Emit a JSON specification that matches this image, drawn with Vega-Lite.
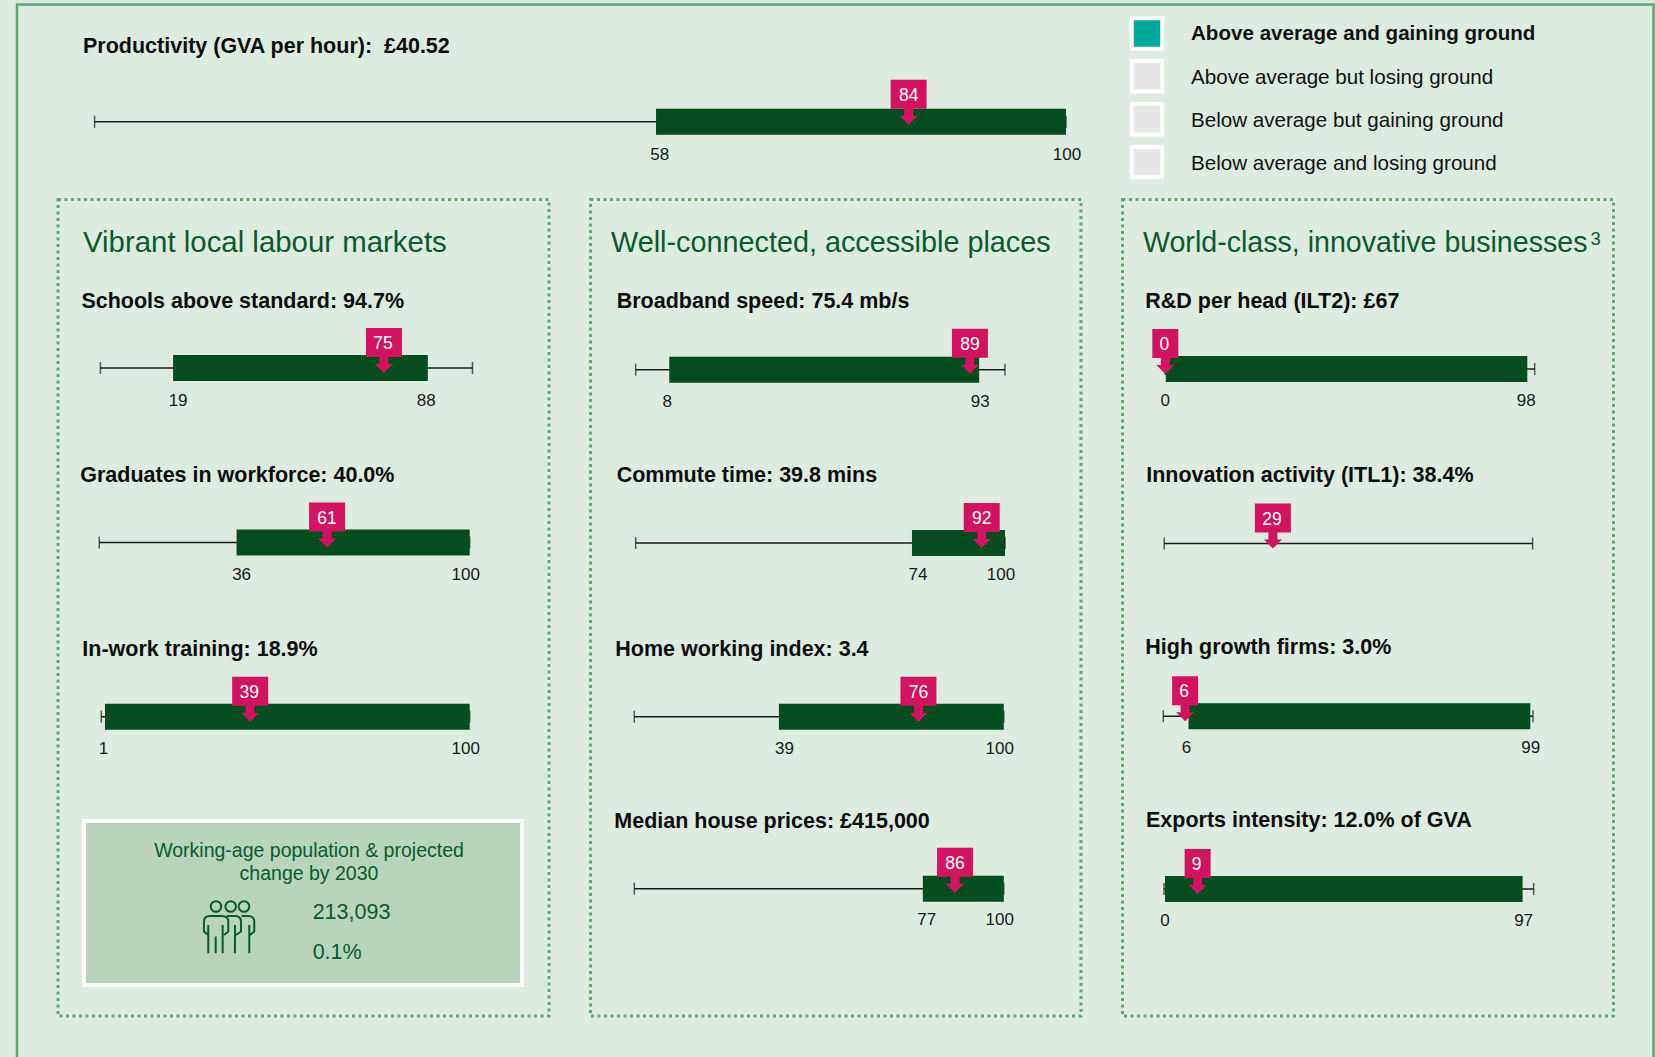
{"$schema":"https://vega.github.io/schema/vega-lite/v6.json","width":1655,"height":1057,"autosize":{"type":"none"},"padding":0,"background":"#deebe1",
"config":{"view":{"stroke":null},"text":{"font":"Liberation Sans"},"axis":{"grid":false}},
"datasets":{
"indicators":[
{"id":"prod","title":"Productivity (GVA per hour):\u00a0\u00a0£40.52","low":58,"high":100,"rank":84,"marker":83.8},
{"id":"schools","title":"Schools above standard: 94.7%","low":19,"high":88,"rank":75,"marker":76.2},
{"id":"grads","title":"Graduates in workforce: 40.0%","low":36,"high":100,"rank":61,"marker":61.5},
{"id":"training","title":"In-work training: 18.9%","low":1,"high":100,"rank":39,"marker":40.4},
{"id":"broadband","title":"Broadband speed: 75.4 mb/s","low":8,"high":93,"rank":89,"marker":90.5},
{"id":"commute","title":"Commute time: 39.8 mins","low":74,"high":100,"rank":92,"marker":93.7},
{"id":"home","title":"Home working index: 3.4","low":39,"high":100,"rank":76,"marker":76.9},
{"id":"house","title":"Median house prices: £415,000","low":77,"high":100,"rank":86,"marker":86.8},
{"id":"rd","title":"R&D per head (ILT2): £67","low":0,"high":98,"rank":0,"marker":0},
{"id":"innovation","title":"Innovation activity (ITL1): 38.4%","rank":29,"marker":29.5},
{"id":"growth","title":"High growth firms: 3.0%","low":6,"high":99,"rank":6,"marker":5.9},
{"id":"exports","title":"Exports intensity: 12.0% of GVA","low":0,"high":97,"rank":9,"marker":9.1}
],
"panels":[{"panel":"Vibrant local labour markets"},{"panel":"Well-connected, accessible places"},{"panel":"World-class, innovative businesses","note":"3"}],
"legend":[{"status":"Above average and gaining ground"},{"status":"Above average but losing ground"},{"status":"Below average but gaining ground"},{"status":"Below average and losing ground"}],
"population":[{"heading":"Working-age population & projected","subheading":"change by 2030","count":"213,093","change":"0.1%"}]
},
"resolve":{"scale":{"x":"independent","y":"independent"}},
"layer":[
{"data":{"name":"population"},"mark":{"type":"rect","fill":null,"stroke":"#5fa777","strokeWidth":2.5},"encoding":{"x":{"datum":0,"type":"quantitative","scale":{"domain":[0,1],"range":[17,1653.5]},"axis":null},"x2":{"datum":1},"y":{"datum":0,"type":"quantitative","scale":{"domain":[0,1],"range":[4.5,1100]},"axis":null},"y2":{"datum":1}}},
{"data":{"name":"panels"},"transform":[{"filter":"datum.panel==='Vibrant local labour markets'"}],"encoding":{"x":{"datum":0,"type":"quantitative","scale":{"domain":[0,1],"range":[58,549]},"axis":null},"y":{"datum":0,"type":"quantitative","scale":{"domain":[0,1],"range":[199.5,1016]},"axis":null}},"layer":[
{"mark":{"type":"rect","fill":null,"stroke":"#5fa777","strokeWidth":3,"strokeDash":[3,3.5]},"encoding":{"x2":{"datum":1},"y2":{"datum":1}}},
{"mark":{"type":"text","align":"left","baseline":"alphabetic","fontSize":29.4,"color":"#0b5a2e","dx":25,"dy":52},"encoding":{"text":{"field":"panel"}}}]},
{"data":{"name":"panels"},"transform":[{"filter":"datum.panel==='Well-connected, accessible places'"}],"encoding":{"x":{"datum":0,"type":"quantitative","scale":{"domain":[0,1],"range":[590.5,1081]},"axis":null},"y":{"datum":0,"type":"quantitative","scale":{"domain":[0,1],"range":[199.5,1016]},"axis":null}},"layer":[
{"mark":{"type":"rect","fill":null,"stroke":"#5fa777","strokeWidth":3,"strokeDash":[3,3.5]},"encoding":{"x2":{"datum":1},"y2":{"datum":1}}},
{"mark":{"type":"text","align":"left","baseline":"alphabetic","fontSize":28.8,"color":"#0b5a2e","dx":20.5,"dy":52},"encoding":{"text":{"field":"panel"}}}]},
{"data":{"name":"panels"},"transform":[{"filter":"datum.panel==='World-class, innovative businesses'"}],"encoding":{"x":{"datum":0,"type":"quantitative","scale":{"domain":[0,1],"range":[1122.5,1613.5]},"axis":null},"y":{"datum":0,"type":"quantitative","scale":{"domain":[0,1],"range":[199.5,1016]},"axis":null}},"layer":[
{"mark":{"type":"rect","fill":null,"stroke":"#5fa777","strokeWidth":3,"strokeDash":[3,3.5]},"encoding":{"x2":{"datum":1},"y2":{"datum":1}}},
{"mark":{"type":"text","align":"left","baseline":"alphabetic","fontSize":28.6,"color":"#0b5a2e","dx":20.5,"dy":52},"encoding":{"text":{"field":"panel"}}},
{"mark":{"type":"text","align":"left","baseline":"alphabetic","fontSize":18.5,"color":"#0b5a2e","dx":468,"dy":45.5},"encoding":{"text":{"field":"note"}}}]},
{"data":{"name":"legend"},"encoding":{"x":{"datum":0,"type":"quantitative","scale":{"domain":[0,1],"range":[1147,1600]},"axis":null},"y":{"field":"status","type":"nominal","sort":null,"scale":{"type":"point","padding":0,"domain":["Above average and gaining ground","Above average but losing ground","Below average but gaining ground","Below average and losing ground"],"range":[33.5,162]},"axis":null}},"layer":[
{"mark":{"type":"point","shape":"square","filled":true,"size":930,"stroke":"#ffffff","strokeWidth":4,"opacity":1,"strokeOpacity":1},"encoding":{"fill":{"field":"status","type":"nominal","legend":null,"scale":{"domain":["Above average and gaining ground","Above average but losing ground","Below average but gaining ground","Below average and losing ground"],"range":["#00a79d","#e8e8e8","#e8e8e8","#e8e8e8"]}}}},
{"transform":[{"filter":"datum.status!=='Above average and gaining ground'"}],"mark":{"type":"text","align":"left","baseline":"middle","fontSize":20.6,"color":"#111111","dx":44,"dy":2},"encoding":{"text":{"field":"status"}}},
{"transform":[{"filter":"datum.status==='Above average and gaining ground'"}],"mark":{"type":"text","align":"left","baseline":"middle","fontSize":20.6,"fontWeight":"bold","color":"#111111","dx":44},"encoding":{"text":{"field":"status"}}}]},
{"data":{"name":"population"},"encoding":{"x":{"datum":0.5,"type":"quantitative","scale":{"domain":[0,1],"range":[84,522]},"axis":null},"y":{"datum":0,"type":"quantitative","scale":{"domain":[0,1],"range":[821,985]},"axis":null}},"layer":[
{"mark":{"type":"rect","fill":"#b8d4bd","stroke":"#ffffff","strokeWidth":4},"encoding":{"x":{"datum":0},"x2":{"datum":1},"y2":{"datum":1}}},
{"mark":{"type":"text","align":"center","baseline":"alphabetic","fontSize":19.5,"color":"#0b5a2e","dx":6},"encoding":{"y":{"datum":0.2177},"text":{"field":"heading"}}},
{"mark":{"type":"text","align":"center","baseline":"alphabetic","fontSize":19.5,"color":"#0b5a2e","dx":6},"encoding":{"y":{"datum":0.36},"text":{"field":"subheading"}}},
{"mark":{"type":"text","align":"left","baseline":"alphabetic","fontSize":21.5,"color":"#0b5a2e"},"encoding":{"x":{"datum":0.522},"y":{"datum":0.595},"text":{"field":"count"}}},
{"mark":{"type":"text","align":"left","baseline":"alphabetic","fontSize":21.5,"color":"#0b5a2e"},"encoding":{"x":{"datum":0.522},"y":{"datum":0.843},"text":{"field":"change"}}},
{"mark":{"type":"point","filled":false,"size":4,"opacity":1,"stroke":"#0b5a2e","strokeWidth":2,"shape":"M-18.3,-20.7a5.3,5.3 0 1,0 10.6,0a5.3,5.3 0 1,0 -10.6,0M-3.6,-20.7a5.3,5.3 0 1,0 10.6,0a5.3,5.3 0 1,0 -10.6,0M9.7,-20.7a5.3,5.3 0 1,0 10.6,0a5.3,5.3 0 1,0 -10.6,0M-20.7,7.7L-25,4.3V-5.7Q-25,-11.3 -19,-11.3H-7.3Q-0.7,-11.3 -0.7,-5.7V4.3L-5,7.7M-20.7,-2.3V26M-13.3,9.3V26M-6.3,-2.3V26M-2.3,-11.3H6Q12,-11.3 12,-5.7V4.3L7,7.7M6,-2.3V26M12.7,-11.3H19.3Q25.3,-11.3 25.3,-5.7V4.3L21,7.7M20.3,-2.3V26"},"encoding":{"x":{"datum":0.331},"y":{"datum":0.648}}}]},

{"data":{"name":"indicators"},"transform":[{"filter":"datum.id==='prod'"}],"encoding":{"x":{"field":"low","type":"quantitative","scale":{"domain":[0,100],"range":[94.6,1066]},"axis":null},"y":{"field":"id","type":"nominal","scale":{"type":"point","domain":["prod"],"range":[121.7,121.7]},"axis":null}},"layer":[
{"mark":{"type":"rule","color":"#1a1a1a","strokeWidth":1.5},"encoding":{"x":{"datum":0},"x2":{"datum":100}}},
{"mark":{"type":"tick","color":"#1a1a1a","size":12,"thickness":1.5},"encoding":{"x":{"datum":0}}},
{"mark":{"type":"tick","color":"#1a1a1a","size":12,"thickness":1.5},"encoding":{"x":{"datum":100}}},
{"mark":{"type":"bar","color":"#054d20","size":26,"xOffset":-2},"encoding":{"x2":{"field":"high"}}},
{"mark":{"type":"point","filled":true,"size":4,"opacity":1,"color":"#d2135f","shape":"M-18,-42H18V-13H4.5V-6H9L0,3L-9,-6H-4.5V-13H-18Z"},"encoding":{"x":{"field":"marker","type":"quantitative"}}},
{"mark":{"type":"text","fontSize":17.5,"color":"#ffffff","dy":-26,"baseline":"middle"},"encoding":{"x":{"field":"marker","type":"quantitative"},"text":{"field":"rank","type":"quantitative"}}},
{"mark":{"type":"text","fontSize":17,"color":"#1a1a1a","baseline":"alphabetic","dy":38,"dx":1.7},"encoding":{"text":{"field":"low","type":"quantitative"}}},
{"mark":{"type":"text","fontSize":17,"color":"#1a1a1a","baseline":"alphabetic","dy":38,"dx":1},"encoding":{"x":{"field":"high","type":"quantitative"},"text":{"field":"high","type":"quantitative"}}},
{"mark":{"type":"text","fontSize":21.5,"fontWeight":"bold","color":"#0d0d0d","align":"left","baseline":"alphabetic","dx":-11.6,"dy":-68.4},"encoding":{"x":{"datum":0},"text":{"field":"title"}}}]},

{"data":{"name":"indicators"},"transform":[{"filter":"datum.id==='schools'"}],"encoding":{"x":{"field":"low","type":"quantitative","scale":{"domain":[0,100],"range":[100.4,472.5]},"axis":null},"y":{"field":"id","type":"nominal","scale":{"type":"point","domain":["schools"],"range":[368,368]},"axis":null}},"layer":[
{"mark":{"type":"rule","color":"#1a1a1a","strokeWidth":1.5},"encoding":{"x":{"datum":0},"x2":{"datum":100}}},
{"mark":{"type":"tick","color":"#1a1a1a","size":12,"thickness":1.5},"encoding":{"x":{"datum":0}}},
{"mark":{"type":"tick","color":"#1a1a1a","size":12,"thickness":1.5},"encoding":{"x":{"datum":100}}},
{"mark":{"type":"bar","color":"#054d20","size":26,"xOffset":2},"encoding":{"x2":{"field":"high"}}},
{"mark":{"type":"point","filled":true,"size":4,"opacity":1,"color":"#d2135f","shape":"M-18,-40H18V-11H4.5V-4H9L0,5L-9,-4H-4.5V-11H-18Z"},"encoding":{"x":{"field":"marker","type":"quantitative"}}},
{"mark":{"type":"text","fontSize":17.5,"color":"#ffffff","dy":-24,"baseline":"middle","dx":-1},"encoding":{"x":{"field":"marker","type":"quantitative"},"text":{"field":"rank","type":"quantitative"}}},
{"mark":{"type":"text","fontSize":17,"color":"#1a1a1a","baseline":"alphabetic","dy":38,"dx":7},"encoding":{"text":{"field":"low","type":"quantitative"}}},
{"mark":{"type":"text","fontSize":17,"color":"#1a1a1a","baseline":"alphabetic","dy":38,"dx":-1.6},"encoding":{"x":{"field":"high","type":"quantitative"},"text":{"field":"high","type":"quantitative"}}},
{"mark":{"type":"text","fontSize":21.5,"fontWeight":"bold","color":"#0d0d0d","align":"left","baseline":"alphabetic","dx":-19,"dy":-60},"encoding":{"x":{"datum":0},"text":{"field":"title"}}}]},

{"data":{"name":"indicators"},"transform":[{"filter":"datum.id==='grads'"}],"encoding":{"x":{"field":"low","type":"quantitative","scale":{"domain":[0,100],"range":[99.2,469.7]},"axis":null},"y":{"field":"id","type":"nominal","scale":{"type":"point","domain":["grads"],"range":[542.5,542.5]},"axis":null}},"layer":[
{"mark":{"type":"rule","color":"#1a1a1a","strokeWidth":1.5},"encoding":{"x":{"datum":0},"x2":{"datum":100}}},
{"mark":{"type":"tick","color":"#1a1a1a","size":12,"thickness":1.5},"encoding":{"x":{"datum":0}}},
{"mark":{"type":"tick","color":"#1a1a1a","size":12,"thickness":1.5},"encoding":{"x":{"datum":100}}},
{"mark":{"type":"bar","color":"#054d20","size":26,"xOffset":4},"encoding":{"x2":{"field":"high"}}},
{"mark":{"type":"point","filled":true,"size":4,"opacity":1,"color":"#d2135f","shape":"M-18,-40H18V-11H4.5V-4H9L0,5L-9,-4H-4.5V-11H-18Z"},"encoding":{"x":{"field":"marker","type":"quantitative"}}},
{"mark":{"type":"text","fontSize":17.5,"color":"#ffffff","dy":-24,"baseline":"middle"},"encoding":{"x":{"field":"marker","type":"quantitative"},"text":{"field":"rank","type":"quantitative"}}},
{"mark":{"type":"text","fontSize":17,"color":"#1a1a1a","baseline":"alphabetic","dy":37,"dx":9},"encoding":{"text":{"field":"low","type":"quantitative"}}},
{"mark":{"type":"text","fontSize":17,"color":"#1a1a1a","baseline":"alphabetic","dy":37,"dx":-4},"encoding":{"x":{"field":"high","type":"quantitative"},"text":{"field":"high","type":"quantitative"}}},
{"mark":{"type":"text","fontSize":21.5,"fontWeight":"bold","color":"#0d0d0d","align":"left","baseline":"alphabetic","dx":-19,"dy":-60.8},"encoding":{"x":{"datum":0},"text":{"field":"title"}}}]},

{"data":{"name":"indicators"},"transform":[{"filter":"datum.id==='training'"}],"encoding":{"x":{"field":"low","type":"quantitative","scale":{"domain":[0,100],"range":[101.3,469.7]},"axis":null},"y":{"field":"id","type":"nominal","scale":{"type":"point","domain":["training"],"range":[716.7,716.7]},"axis":null}},"layer":[
{"mark":{"type":"rule","color":"#1a1a1a","strokeWidth":1.5},"encoding":{"x":{"datum":0},"x2":{"datum":100}}},
{"mark":{"type":"tick","color":"#1a1a1a","size":12,"thickness":1.5},"encoding":{"x":{"datum":0}}},
{"mark":{"type":"tick","color":"#1a1a1a","size":12,"thickness":1.5},"encoding":{"x":{"datum":100}}},
{"mark":{"type":"bar","color":"#054d20","size":26},"encoding":{"x2":{"field":"high"}}},
{"mark":{"type":"point","filled":true,"size":4,"opacity":1,"color":"#d2135f","shape":"M-18,-40H18V-11H4.5V-4H9L0,5L-9,-4H-4.5V-11H-18Z"},"encoding":{"x":{"field":"marker","type":"quantitative"}}},
{"mark":{"type":"text","fontSize":17.5,"color":"#ffffff","dy":-24,"baseline":"middle","dx":-1},"encoding":{"x":{"field":"marker","type":"quantitative"},"text":{"field":"rank","type":"quantitative"}}},
{"mark":{"type":"text","fontSize":17,"color":"#1a1a1a","baseline":"alphabetic","dy":37,"dx":-1.6},"encoding":{"text":{"field":"low","type":"quantitative"}}},
{"mark":{"type":"text","fontSize":17,"color":"#1a1a1a","baseline":"alphabetic","dy":37,"dx":-4},"encoding":{"x":{"field":"high","type":"quantitative"},"text":{"field":"high","type":"quantitative"}}},
{"mark":{"type":"text","fontSize":21.5,"fontWeight":"bold","color":"#0d0d0d","align":"left","baseline":"alphabetic","dx":-19,"dy":-61},"encoding":{"x":{"datum":0},"text":{"field":"title"}}}]},

{"data":{"name":"indicators"},"transform":[{"filter":"datum.id==='broadband'"}],"encoding":{"x":{"field":"low","type":"quantitative","scale":{"domain":[0,100],"range":[635.7,1005]},"axis":null},"y":{"field":"id","type":"nominal","scale":{"type":"point","domain":["broadband"],"range":[369.7,369.7]},"axis":null}},"layer":[
{"mark":{"type":"rule","color":"#1a1a1a","strokeWidth":1.5},"encoding":{"x":{"datum":0},"x2":{"datum":100}}},
{"mark":{"type":"tick","color":"#1a1a1a","size":12,"thickness":1.5},"encoding":{"x":{"datum":0}}},
{"mark":{"type":"tick","color":"#1a1a1a","size":12,"thickness":1.5},"encoding":{"x":{"datum":100}}},
{"mark":{"type":"bar","color":"#054d20","size":26,"xOffset":4},"encoding":{"x2":{"field":"high"}}},
{"mark":{"type":"point","filled":true,"size":4,"opacity":1,"color":"#d2135f","shape":"M-18,-41H18V-12H4.5V-5H9L0,4L-9,-5H-4.5V-12H-18Z"},"encoding":{"x":{"field":"marker","type":"quantitative"}}},
{"mark":{"type":"text","fontSize":17.5,"color":"#ffffff","dy":-25,"baseline":"middle"},"encoding":{"x":{"field":"marker","type":"quantitative"},"text":{"field":"rank","type":"quantitative"}}},
{"mark":{"type":"text","fontSize":17,"color":"#1a1a1a","baseline":"alphabetic","dy":37,"dx":2},"encoding":{"text":{"field":"low","type":"quantitative"}}},
{"mark":{"type":"text","fontSize":17,"color":"#1a1a1a","baseline":"alphabetic","dy":37,"dx":1},"encoding":{"x":{"field":"high","type":"quantitative"},"text":{"field":"high","type":"quantitative"}}},
{"mark":{"type":"text","fontSize":21.5,"fontWeight":"bold","color":"#0d0d0d","align":"left","baseline":"alphabetic","dx":-19,"dy":-61.5},"encoding":{"x":{"datum":0},"text":{"field":"title"}}}]},

{"data":{"name":"indicators"},"transform":[{"filter":"datum.id==='commute'"}],"encoding":{"x":{"field":"low","type":"quantitative","scale":{"domain":[0,100],"range":[635.7,1005]},"axis":null},"y":{"field":"id","type":"nominal","scale":{"type":"point","domain":["commute"],"range":[543,543]},"axis":null}},"layer":[
{"mark":{"type":"rule","color":"#1a1a1a","strokeWidth":1.5},"encoding":{"x":{"datum":0},"x2":{"datum":100}}},
{"mark":{"type":"tick","color":"#1a1a1a","size":12,"thickness":1.5},"encoding":{"x":{"datum":0}}},
{"mark":{"type":"bar","color":"#054d20","size":26,"xOffset":3},"encoding":{"x2":{"field":"high"}}},
{"mark":{"type":"tick","color":"#1a1a1a","size":12,"thickness":1.5},"encoding":{"x":{"datum":100}}},
{"mark":{"type":"point","filled":true,"size":4,"opacity":1,"color":"#d2135f","shape":"M-18,-40H18V-11H4.5V-4H9L0,5L-9,-4H-4.5V-11H-18Z"},"encoding":{"x":{"field":"marker","type":"quantitative"}}},
{"mark":{"type":"text","fontSize":17.5,"color":"#ffffff","dy":-24,"baseline":"middle"},"encoding":{"x":{"field":"marker","type":"quantitative"},"text":{"field":"rank","type":"quantitative"}}},
{"mark":{"type":"text","fontSize":17,"color":"#1a1a1a","baseline":"alphabetic","dy":37,"dx":9},"encoding":{"text":{"field":"low","type":"quantitative"}}},
{"mark":{"type":"text","fontSize":17,"color":"#1a1a1a","baseline":"alphabetic","dy":37,"dx":-4},"encoding":{"x":{"field":"high","type":"quantitative"},"text":{"field":"high","type":"quantitative"}}},
{"mark":{"type":"text","fontSize":21.5,"fontWeight":"bold","color":"#0d0d0d","align":"left","baseline":"alphabetic","dx":-19,"dy":-61.5},"encoding":{"x":{"datum":0},"text":{"field":"title"}}}]},

{"data":{"name":"indicators"},"transform":[{"filter":"datum.id==='home'"}],"encoding":{"x":{"field":"low","type":"quantitative","scale":{"domain":[0,100],"range":[634.3,1003.8]},"axis":null},"y":{"field":"id","type":"nominal","scale":{"type":"point","domain":["home"],"range":[716.7,716.7]},"axis":null}},"layer":[
{"mark":{"type":"rule","color":"#1a1a1a","strokeWidth":1.5},"encoding":{"x":{"datum":0},"x2":{"datum":100}}},
{"mark":{"type":"tick","color":"#1a1a1a","size":12,"thickness":1.5},"encoding":{"x":{"datum":0}}},
{"mark":{"type":"tick","color":"#1a1a1a","size":12,"thickness":1.5},"encoding":{"x":{"datum":100}}},
{"mark":{"type":"bar","color":"#054d20","size":26,"xOffset":0.5},"encoding":{"x2":{"field":"high"}}},
{"mark":{"type":"point","filled":true,"size":4,"opacity":1,"color":"#d2135f","shape":"M-18,-40H18V-11H4.5V-4H9L0,5L-9,-4H-4.5V-11H-18Z"},"encoding":{"x":{"field":"marker","type":"quantitative"}}},
{"mark":{"type":"text","fontSize":17.5,"color":"#ffffff","dy":-24,"baseline":"middle"},"encoding":{"x":{"field":"marker","type":"quantitative"},"text":{"field":"rank","type":"quantitative"}}},
{"mark":{"type":"text","fontSize":17,"color":"#1a1a1a","baseline":"alphabetic","dy":37,"dx":6},"encoding":{"text":{"field":"low","type":"quantitative"}}},
{"mark":{"type":"text","fontSize":17,"color":"#1a1a1a","baseline":"alphabetic","dy":37,"dx":-4},"encoding":{"x":{"field":"high","type":"quantitative"},"text":{"field":"high","type":"quantitative"}}},
{"mark":{"type":"text","fontSize":21.5,"fontWeight":"bold","color":"#0d0d0d","align":"left","baseline":"alphabetic","dx":-19,"dy":-61},"encoding":{"x":{"datum":0},"text":{"field":"title"}}}]},

{"data":{"name":"indicators"},"transform":[{"filter":"datum.id==='house'"}],"encoding":{"x":{"field":"low","type":"quantitative","scale":{"domain":[0,100],"range":[634.3,1003.8]},"axis":null},"y":{"field":"id","type":"nominal","scale":{"type":"point","domain":["house"],"range":[888.7,888.7]},"axis":null}},"layer":[
{"mark":{"type":"rule","color":"#1a1a1a","strokeWidth":1.5},"encoding":{"x":{"datum":0},"x2":{"datum":100}}},
{"mark":{"type":"tick","color":"#1a1a1a","size":12,"thickness":1.5},"encoding":{"x":{"datum":0}}},
{"mark":{"type":"tick","color":"#1a1a1a","size":12,"thickness":1.5},"encoding":{"x":{"datum":100}}},
{"mark":{"type":"bar","color":"#054d20","size":26,"xOffset":4},"encoding":{"x2":{"field":"high"}}},
{"mark":{"type":"point","filled":true,"size":4,"opacity":1,"color":"#d2135f","shape":"M-18,-41H18V-12H4.5V-5H9L0,4L-9,-5H-4.5V-12H-18Z"},"encoding":{"x":{"field":"marker","type":"quantitative"}}},
{"mark":{"type":"text","fontSize":17.5,"color":"#ffffff","dy":-25,"baseline":"middle"},"encoding":{"x":{"field":"marker","type":"quantitative"},"text":{"field":"rank","type":"quantitative"}}},
{"mark":{"type":"text","fontSize":17,"color":"#1a1a1a","baseline":"alphabetic","dy":36,"dx":8},"encoding":{"text":{"field":"low","type":"quantitative"}}},
{"mark":{"type":"text","fontSize":17,"color":"#1a1a1a","baseline":"alphabetic","dy":36,"dx":-4},"encoding":{"x":{"field":"high","type":"quantitative"},"text":{"field":"high","type":"quantitative"}}},
{"mark":{"type":"text","fontSize":21.5,"fontWeight":"bold","color":"#0d0d0d","align":"left","baseline":"alphabetic","dx":-20,"dy":-61},"encoding":{"x":{"datum":0},"text":{"field":"title"}}}]},

{"data":{"name":"indicators"},"transform":[{"filter":"datum.id==='rd'"}],"encoding":{"x":{"field":"low","type":"quantitative","scale":{"domain":[0,100],"range":[1165.3,1534.7]},"axis":null},"y":{"field":"id","type":"nominal","scale":{"type":"point","domain":["rd"],"range":[369,369]},"axis":null}},"layer":[
{"mark":{"type":"rule","color":"#1a1a1a","strokeWidth":1.5},"encoding":{"x":{"datum":0},"x2":{"datum":100}}},
{"mark":{"type":"tick","color":"#1a1a1a","size":12,"thickness":1.5},"encoding":{"x":{"datum":0}}},
{"mark":{"type":"tick","color":"#1a1a1a","size":12,"thickness":1.5},"encoding":{"x":{"datum":100}}},
{"mark":{"type":"bar","color":"#054d20","size":26,"xOffset":0.5},"encoding":{"x2":{"field":"high"}}},
{"mark":{"type":"point","filled":true,"size":4,"opacity":1,"color":"#d2135f","shape":"M-13,-40H13V-11H4.5V-4H9L0,5L-9,-4H-4.5V-11H-13Z"},"encoding":{"x":{"field":"marker","type":"quantitative"}}},
{"mark":{"type":"text","fontSize":17.5,"color":"#ffffff","dy":-24,"baseline":"middle","dx":-1},"encoding":{"x":{"field":"marker","type":"quantitative"},"text":{"field":"rank","type":"quantitative"}}},
{"mark":{"type":"text","fontSize":17,"color":"#1a1a1a","baseline":"alphabetic","dy":37,"dx":0},"encoding":{"text":{"field":"low","type":"quantitative"}}},
{"mark":{"type":"text","fontSize":17,"color":"#1a1a1a","baseline":"alphabetic","dy":37,"dx":-1},"encoding":{"x":{"field":"high","type":"quantitative"},"text":{"field":"high","type":"quantitative"}}},
{"mark":{"type":"text","fontSize":21.5,"fontWeight":"bold","color":"#0d0d0d","align":"left","baseline":"alphabetic","dx":-20,"dy":-61},"encoding":{"x":{"datum":0},"text":{"field":"title"}}}]},

{"data":{"name":"indicators"},"transform":[{"filter":"datum.id==='innovation'"}],"encoding":{"x":{"field":"marker","type":"quantitative","scale":{"domain":[0,100],"range":[1164.2,1532.6]},"axis":null},"y":{"field":"id","type":"nominal","scale":{"type":"point","domain":["innovation"],"range":[543.6,543.6]},"axis":null}},"layer":[
{"mark":{"type":"rule","color":"#1a1a1a","strokeWidth":1.5},"encoding":{"x":{"datum":0},"x2":{"datum":100}}},
{"mark":{"type":"tick","color":"#1a1a1a","size":12,"thickness":1.5},"encoding":{"x":{"datum":0}}},
{"mark":{"type":"tick","color":"#1a1a1a","size":12,"thickness":1.5},"encoding":{"x":{"datum":100}}},
{"mark":{"type":"point","filled":true,"size":4,"opacity":1,"color":"#d2135f","shape":"M-18,-40H18V-11H4.5V-4H9L0,5L-9,-4H-4.5V-11H-18Z"}},
{"mark":{"type":"text","fontSize":17.5,"color":"#ffffff","dy":-24,"baseline":"middle","dx":-1},"encoding":{"text":{"field":"rank","type":"quantitative"}}},
{"mark":{"type":"text","fontSize":21.5,"fontWeight":"bold","color":"#0d0d0d","align":"left","baseline":"alphabetic","dx":-18,"dy":-62},"encoding":{"x":{"datum":0},"text":{"field":"title"}}}]},

{"data":{"name":"indicators"},"transform":[{"filter":"datum.id==='growth'"}],"encoding":{"x":{"field":"low","type":"quantitative","scale":{"domain":[0,100],"range":[1163.3,1533]},"axis":null},"y":{"field":"id","type":"nominal","scale":{"type":"point","domain":["growth"],"range":[716.3,716.3]},"axis":null}},"layer":[
{"mark":{"type":"rule","color":"#1a1a1a","strokeWidth":1.5},"encoding":{"x":{"datum":0},"x2":{"datum":100}}},
{"mark":{"type":"tick","color":"#1a1a1a","size":12,"thickness":1.5},"encoding":{"x":{"datum":0}}},
{"mark":{"type":"tick","color":"#1a1a1a","size":12,"thickness":1.5},"encoding":{"x":{"datum":100}}},
{"mark":{"type":"bar","color":"#054d20","size":26,"xOffset":3,"x2Offset":1},"encoding":{"x2":{"field":"high"}}},
{"mark":{"type":"point","filled":true,"size":4,"opacity":1,"color":"#d2135f","shape":"M-13,-40H13V-11H4.5V-4H9L0,5L-9,-4H-4.5V-11H-13Z"},"encoding":{"x":{"field":"marker","type":"quantitative"}}},
{"mark":{"type":"text","fontSize":17.5,"color":"#ffffff","dy":-24,"baseline":"middle","dx":-1},"encoding":{"x":{"field":"marker","type":"quantitative"},"text":{"field":"rank","type":"quantitative"}}},
{"mark":{"type":"text","fontSize":17,"color":"#1a1a1a","baseline":"alphabetic","dy":37,"dx":1},"encoding":{"text":{"field":"low","type":"quantitative"}}},
{"mark":{"type":"text","fontSize":17,"color":"#1a1a1a","baseline":"alphabetic","dy":37,"dx":1.5},"encoding":{"x":{"field":"high","type":"quantitative"},"text":{"field":"high","type":"quantitative"}}},
{"mark":{"type":"text","fontSize":21.5,"fontWeight":"bold","color":"#0d0d0d","align":"left","baseline":"alphabetic","dx":-18,"dy":-62},"encoding":{"x":{"datum":0},"text":{"field":"title"}}}]},

{"data":{"name":"indicators"},"transform":[{"filter":"datum.id==='exports'"}],"encoding":{"x":{"field":"low","type":"quantitative","scale":{"domain":[0,100],"range":[1164,1533.7]},"axis":null},"y":{"field":"id","type":"nominal","scale":{"type":"point","domain":["exports"],"range":[889,889]},"axis":null}},"layer":[
{"mark":{"type":"rule","color":"#1a1a1a","strokeWidth":1.5},"encoding":{"x":{"datum":0},"x2":{"datum":100}}},
{"mark":{"type":"tick","color":"#1a1a1a","size":12,"thickness":1.5},"encoding":{"x":{"datum":0}}},
{"mark":{"type":"tick","color":"#1a1a1a","size":12,"thickness":1.5},"encoding":{"x":{"datum":100}}},
{"mark":{"type":"bar","color":"#054d20","size":26,"xOffset":1},"encoding":{"x2":{"field":"high"}}},
{"mark":{"type":"point","filled":true,"size":4,"opacity":1,"color":"#d2135f","shape":"M-13,-40H13V-11H4.5V-4H9L0,5L-9,-4H-4.5V-11H-13Z"},"encoding":{"x":{"field":"marker","type":"quantitative"}}},
{"mark":{"type":"text","fontSize":17.5,"color":"#ffffff","dy":-24,"baseline":"middle","dx":-1},"encoding":{"x":{"field":"marker","type":"quantitative"},"text":{"field":"rank","type":"quantitative"}}},
{"mark":{"type":"text","fontSize":17,"color":"#1a1a1a","baseline":"alphabetic","dy":37,"dx":1},"encoding":{"text":{"field":"low","type":"quantitative"}}},
{"mark":{"type":"text","fontSize":17,"color":"#1a1a1a","baseline":"alphabetic","dy":37,"dx":1},"encoding":{"x":{"field":"high","type":"quantitative"},"text":{"field":"high","type":"quantitative"}}},
{"mark":{"type":"text","fontSize":21.5,"fontWeight":"bold","color":"#0d0d0d","align":"left","baseline":"alphabetic","dx":-18,"dy":-62},"encoding":{"x":{"datum":0},"text":{"field":"title"}}}]}
]}
